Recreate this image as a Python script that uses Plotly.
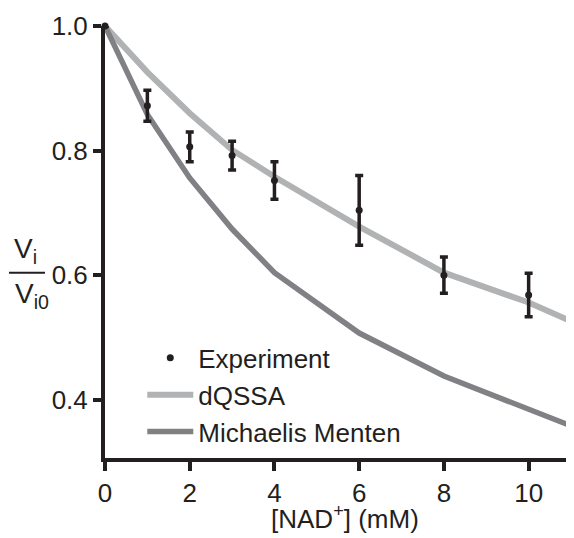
import plotly.graph_objects as go

# Data
exp_x = [0, 1, 2, 3, 4, 6, 8, 10]
exp_y = [1.0, 0.872, 0.806, 0.792, 0.752, 0.704, 0.600, 0.568]
exp_err = [0.0, 0.025, 0.024, 0.023, 0.030, 0.056, 0.029, 0.035]

model_x = [0, 1, 2, 3, 4, 6, 8, 10, 11]
dqssa_y = [1.0, 0.926, 0.860, 0.801, 0.758, 0.678, 0.604, 0.556, 0.526]
mm_y = [1.0, 0.858, 0.756, 0.674, 0.604, 0.507, 0.438, 0.384, 0.358]

x_ticks = [0, 2, 4, 6, 8, 10]
y_ticks = [0.4, 0.6, 0.8, 1.0]

INK = "#231f20"
FONT = "Liberation Sans, Arial, sans-serif"

fig = go.Figure()
fig.add_trace(go.Scatter(
    x=model_x, y=dqssa_y, mode="lines", name="dQSSA",
    line=dict(color="#b1b2b4", width=6), legendrank=2, legendgroup="b",
    cliponaxis=False))
fig.add_trace(go.Scatter(
    x=model_x, y=mm_y, mode="lines", name="Michaelis Menten",
    line=dict(color="#808184", width=5.5), legendrank=3, legendgroup="c",
    cliponaxis=False))
fig.add_trace(go.Scatter(
    x=exp_x, y=exp_y, mode="markers", name="Experiment",
    marker=dict(color=INK, size=7),
    error_y=dict(type="data", array=exp_err, color=INK, thickness=3.5, width=4),
    legendrank=1, legendgroup="a", cliponaxis=False))

# The page body has an 8px margin, so the figure is 8px smaller in each direction
fig.update_layout(
    width=566, height=530,
    margin=dict(l=97, r=3, t=16, b=80),
    paper_bgcolor="white", plot_bgcolor="white",
    font=dict(family=FONT, color=INK, size=26),
    showlegend=True,
    legend=dict(x=0.08, y=0.286, xanchor="left", yanchor="top",
                bgcolor="rgba(0,0,0,0)", font=dict(size=26, color=INK),
                tracegroupgap=0, traceorder="grouped", itemwidth=46),
    xaxis=dict(range=[0, 11], tickvals=x_ticks, showgrid=False, zeroline=False,
               showline=True, linewidth=4, linecolor=INK,
               ticks="outside", ticklen=9, tickwidth=4, tickcolor=INK,
               tickfont=dict(size=26, color=INK)),
    yaxis=dict(range=[0.3064, 1.0], tickvals=y_ticks, tickformat=".1f", showgrid=False,
               zeroline=False, showline=True, linewidth=4, linecolor=INK,
               ticks="outside", ticklen=8, tickwidth=4, tickcolor=INK,
               tickfont=dict(size=26, color=INK)),
)

# X axis title
fig.add_annotation(text="[NAD<sup>+</sup>] (mM)", xref="paper", yref="paper",
                   x=0.515, y=-0.137, xanchor="center", yanchor="middle",
                   showarrow=False, font=dict(size=26, color=INK, family=FONT))

# Y axis title as a fraction Vi / Vi0
fig.add_annotation(text="V<sub>i</sub>", xref="paper", yref="y", x=-0.1996, y=0.64,
                   xanchor="left", yanchor="middle", showarrow=False,
                   font=dict(size=28, color=INK, family=FONT))
fig.add_annotation(text="V<sub>i0</sub>", xref="paper", yref="y", x=-0.197, y=0.568,
                   xanchor="left", yanchor="middle", showarrow=False,
                   font=dict(size=28, color=INK, family=FONT))
fig.add_shape(type="line", xref="paper", yref="y", x0=-0.206, x1=-0.1288,
              y0=0.604, y1=0.604, line=dict(color=INK, width=2))

fig.write_html("out.html")
